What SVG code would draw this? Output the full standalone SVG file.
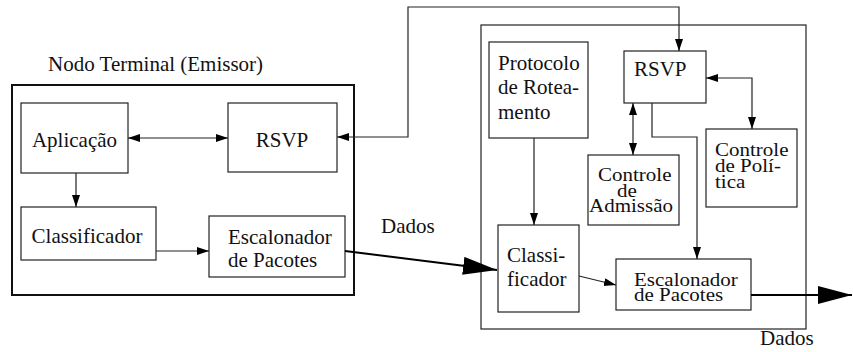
<svg xmlns="http://www.w3.org/2000/svg" width="853" height="352" viewBox="0 0 853 352">
  <style>
    text { font-family: "Liberation Serif", "Times New Roman", serif; font-size: 21px; fill: #111; }
    .box { fill: none; stroke: #222; stroke-width: 1.2; }
    .frame { fill: none; stroke: #111; stroke-width: 2; }
    .frame2 { fill: none; stroke: #222; stroke-width: 1.2; }
    .ln { fill: none; stroke: #222; stroke-width: 1.2; }
    .thick { fill: none; stroke: #000; stroke-width: 2; }
    .mid { text-anchor: middle; }
  </style>
  <defs>
    <marker id="arr" markerUnits="userSpaceOnUse" markerWidth="13" markerHeight="9" refX="12" refY="4" orient="auto-start-reverse">
      <path d="M0,0 L12,4 L0,8 z" fill="#000"/>
    </marker>
    <marker id="big" markerUnits="userSpaceOnUse" markerWidth="35" markerHeight="20" refX="34" refY="9" orient="auto">
      <path d="M0,0 L34,9 L0,18 z" fill="#000"/>
    </marker>
  </defs>

  <!-- sending end node -->
  <g id="emissor">
    <rect class="frame" x="12" y="85" width="342" height="210"/>
    <text x="48" y="71">Nodo Terminal (Emissor)</text>
  </g>
  <g id="aplicacao">
    <rect class="box" x="21" y="103" width="107" height="70"/>
    <text class="mid" x="74.5" y="147">Aplicação</text>
  </g>
  <g id="rsvp-emissor">
    <rect class="box" x="228" y="103" width="109" height="69"/>
    <text class="mid" x="282" y="147">RSVP</text>
  </g>
  <g id="classificador-emissor">
    <rect class="box" x="21" y="207" width="135" height="53"/>
    <text class="mid" x="87" y="243">Classificador</text>
  </g>
  <g id="escalonador-emissor">
    <rect class="box" x="209" y="216" width="136" height="61"/>
    <text x="228" y="244">Escalonador</text>
    <text x="228" y="267">de Pacotes</text>
  </g>

  <!-- router -->
  <g id="roteador">
    <rect class="frame2" x="481" y="25" width="325" height="304"/>
  </g>
  <g id="protocolo">
    <rect class="box" x="489" y="42" width="99" height="96"/>
    <text x="498" y="70">Protocolo</text>
    <text x="498" y="94">de Rotea-</text>
    <text x="498" y="119">mento</text>
  </g>
  <g id="rsvp-roteador">
    <rect class="box" x="624" y="51" width="82" height="52"/>
    <text x="634" y="76">RSVP</text>
  </g>
  <g id="controle-politica">
    <rect class="box" x="706" y="129" width="91" height="78"/>
    <text transform="translate(715,156) scale(1,0.86)">Controle</text>
    <text transform="translate(715,172) scale(1,0.86)">de Polí-</text>
    <text transform="translate(715,188) scale(1,0.86)">tica</text>
  </g>
  <g id="controle-admissao">
    <rect class="box" x="588" y="155" width="91" height="70"/>
    <text transform="translate(598,181) scale(1,0.86)">Controle</text>
    <text transform="translate(617,196.5) scale(1,0.86)">de</text>
    <text transform="translate(589,212) scale(1,0.86)">Admissão</text>
  </g>
  <g id="classificador-roteador">
    <rect class="box" x="498" y="225" width="81" height="87"/>
    <text x="507" y="262">Classi-</text>
    <text x="507" y="286">ficador</text>
  </g>
  <g id="escalonador-roteador">
    <rect class="box" x="616" y="259" width="135" height="51"/>
    <text transform="translate(634,286) scale(1,0.86)">Escalonador</text>
    <text transform="translate(634,301) scale(1,0.86)">de Pacotes</text>
  </g>

  <!-- labels on data flow -->
  <text x="381" y="233">Dados</text>
  <text x="760" y="345">Dados</text>

  <!-- connectors -->
  <g id="conectores">
    <line class="ln" x1="128" y1="138" x2="228" y2="138" marker-start="url(#arr)" marker-end="url(#arr)"/>
    <line class="ln" x1="76" y1="173" x2="76" y2="207" marker-end="url(#arr)"/>
    <line class="ln" x1="156" y1="251" x2="209" y2="251" marker-end="url(#arr)"/>
    <polyline class="ln" points="337,137 408,137 408,7 679,7 679,51" marker-start="url(#arr)" marker-end="url(#arr)"/>
    <line class="thick" x1="345" y1="251" x2="497" y2="270" marker-end="url(#big)"/>
    <line class="ln" x1="534" y1="138" x2="534" y2="225" marker-end="url(#arr)"/>
    <line class="ln" x1="579" y1="276" x2="616" y2="285" marker-end="url(#arr)"/>
    <polyline class="ln" points="706,78 752,78 752,129" marker-start="url(#arr)" marker-end="url(#arr)"/>
    <line class="ln" x1="633" y1="103" x2="633" y2="155" marker-start="url(#arr)" marker-end="url(#arr)"/>
    <polyline class="ln" points="652,103 652,137 697,137 697,259" marker-end="url(#arr)"/>
    <line class="thick" x1="751" y1="295" x2="852" y2="295" marker-end="url(#big)"/>
  </g>
</svg>
